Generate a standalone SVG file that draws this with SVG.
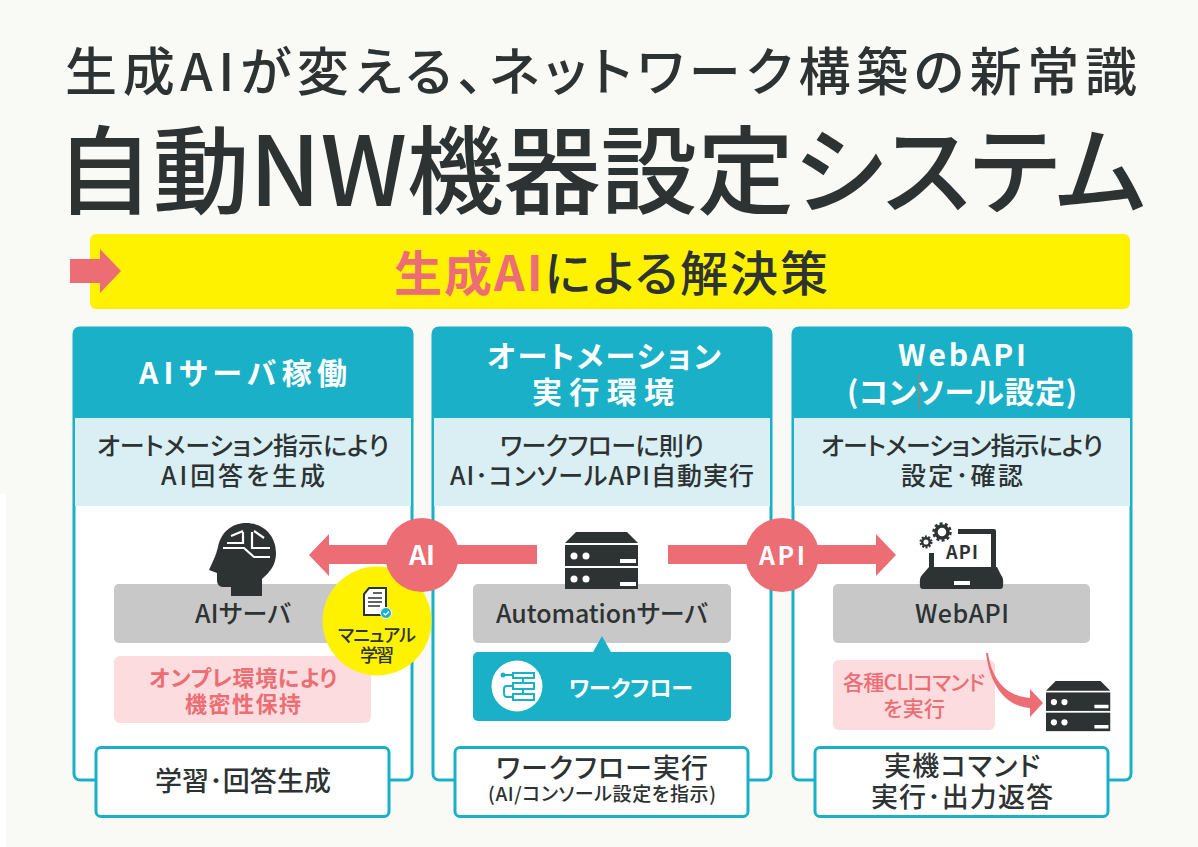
<svg xmlns="http://www.w3.org/2000/svg" width="1198" height="847" viewBox="0 0 1198 847">
<style>
text{font-family:"Noto Sans CJK JP","Noto Sans",sans-serif;fill:#2d3233;text-anchor:middle;font-feature-settings:"palt"}
.b{font-weight:700}
.m{font-weight:500}
.w{fill:#fff}
.r{fill:#ec6d74}
.card{fill:#fff;stroke:#19b0c8;stroke-width:3}
.head{fill:#19b0c8}
.sub{fill:#d9eff4}
.foot{fill:#fff;stroke:#19b0c8;stroke-width:3}
.gray{fill:#c8c8c8}
.pink{fill:#fcdcde}
.dark{fill:#2d3233}
.arrow{fill:#ec6d74}
</style>
<defs>
<g id="server">
<path d="M0 11 L11 0 H62 L73 11 Z" class="dark"/>
<rect x="0" y="13" width="73" height="21" class="dark"/>
<rect x="0" y="36" width="73" height="21" class="dark"/>
<circle cx="9" cy="24" r="3.500" fill="#fff"/><circle cx="21" cy="24" r="3.500" fill="#fff"/>
<rect x="55" y="27" width="16" height="4" fill="#fff"/>
<circle cx="9" cy="47" r="3.500" fill="#fff"/><circle cx="21" cy="47" r="3.500" fill="#fff"/>
<rect x="55" y="50" width="16" height="4" fill="#fff"/>
</g>
</defs>
<rect width="1198" height="847" fill="#f9f9f5"/>
<rect x="0" y="494" width="6" height="353" fill="#fff"/>

<g id="title">
<text x="601" y="91" font-size="52" class="m" textLength="1072" lengthAdjust="spacing">生成AIが変える、ネットワーク構築の新常識</text>
<text x="601" y="206" font-size="96" class="m" textLength="1090" lengthAdjust="spacingAndGlyphs">自動NW機器設定システム</text>
</g>

<g id="banner">
<rect x="90" y="234" width="1040" height="75" rx="6" fill="#fff200"/>
<path d="M70 259 H100 V249 L121 271 L100 293 V283 H70 Z" class="arrow"/>
<text x="611" y="291" font-size="48" class="b" textLength="434" lengthAdjust="spacing"><tspan class="r">生成AI</tspan><tspan class="m">による解決策</tspan></text>
</g>

<g id="col-ai">
<rect class="card" x="74" y="328" width="338" height="452" rx="6"/>
<path class="head" d="M73 418 V333 a6 6 0 0 1 6-6 H407 a6 6 0 0 1 6 6 V418 Z"/>
<rect class="sub" x="75" y="418" width="336" height="88"/>
<text x="243" y="384" font-size="30" class="b w" textLength="208" lengthAdjust="spacing">AIサーバ稼働</text>
<text x="243" y="455" font-size="25" class="m" textLength="292" lengthAdjust="spacing">オートメーション指示により</text>
<text x="243" y="485" font-size="25" class="m" textLength="164" lengthAdjust="spacing">AI回答を生成</text>
</g>
<g id="col-auto">
<rect class="card" x="433" y="328" width="338" height="452" rx="6"/>
<path class="head" d="M432 418 V333 a6 6 0 0 1 6-6 H766 a6 6 0 0 1 6 6 V418 Z"/>
<rect class="sub" x="434" y="418" width="336" height="88"/>
<text x="604" y="367" font-size="30" class="b w" textLength="234" lengthAdjust="spacing">オートメーション</text>
<text x="603" y="403" font-size="30" class="b w" textLength="142" lengthAdjust="spacing">実行環境</text>
<text x="602" y="455" font-size="25" class="m" textLength="204" lengthAdjust="spacing">ワークフローに則り</text>
<text x="602" y="485" font-size="25" class="m" textLength="304" lengthAdjust="spacing">AI･コンソールAPI自動実行</text>
</g>
<g id="col-api">
<rect class="card" x="793" y="328" width="338" height="452" rx="6"/>
<path class="head" d="M792 418 V333 a6 6 0 0 1 6-6 H1126 a6 6 0 0 1 6 6 V418 Z"/>
<rect class="sub" x="794" y="418" width="336" height="88"/>
<text x="962" y="366" font-size="30" class="b w" textLength="128" lengthAdjust="spacing">WebAPI</text>
<text x="962" y="403" font-size="30" class="b w" textLength="230" lengthAdjust="spacing">(コンソール設定)</text>
<rect x="918" y="374" width="1" height="36" fill="#c8704f"/>
<text x="962" y="455" font-size="25" class="m" textLength="282" lengthAdjust="spacing">オートメーション指示により</text>
<text x="962" y="485" font-size="25" class="m" textLength="122" lengthAdjust="spacing">設定･確認</text>
</g>

<g id="ai-server">
<rect class="gray" x="114" y="584" width="257" height="59" rx="5"/>
<text x="243" y="623" font-size="25" class="m" textLength="96" lengthAdjust="spacing">AIサーバ</text>
<path class="dark" d="M218 547 C221 532 232 523 246 523 C264 523 276 536 276 553 C276 565 270 572 262 579 V596 H231 V587 H223 C219 587 217 584 217 580 V573 L209 570 C212 563 216 556 218 547 Z"/>
<path d="M223 548 H244 L254 557 H270 M227 543 H243 V532 M231 536 L243 531 M252 532 V548 H270 M254 531 L264 538" fill="none" stroke="#fff" stroke-width="2.200"/>
</g>
<g id="ai-note">
<rect class="pink" x="114" y="656" width="257" height="67" rx="6"/>
<text x="243" y="686" font-size="22" class="b r" textLength="188" lengthAdjust="spacing">オンプレ環境により</text>
<text x="243" y="712" font-size="22" class="b r" textLength="116" lengthAdjust="spacing">機密性保持</text>
</g>
<g id="ai-foot">
<rect class="foot" x="96" y="747.500" width="293" height="69" rx="5"/>
<text x="243" y="791" font-size="27" class="m" textLength="176" lengthAdjust="spacing">学習･回答生成</text>
</g>

<g id="auto-server">
<rect class="gray" x="473" y="584" width="258" height="59" rx="5"/>
<text x="602" y="623" font-size="25" class="m" textLength="212" lengthAdjust="spacing">Automationサーバ</text>
<use href="#server" x="565" y="532"/>
</g>
<g id="workflow">
<path class="head" d="M593 652 L602 636 L611 652 Z"/>
<rect class="head" x="473" y="652" width="258" height="69" rx="5"/>
<circle cx="517" cy="686" r="25.500" fill="#fff"/>
<g fill="none" stroke="#19b0c8" stroke-width="2">
<rect x="513" y="673" width="21" height="5"/><rect x="513" y="683" width="21" height="6"/><rect x="513" y="694" width="21" height="6"/>
<path d="M503 675 H513 M513 686 H507 Q504 686 504 689 V693 Q504 697 507 697 H513 M523 678 V683 M523 689 V694"/>
</g>
<circle cx="503" cy="675" r="2.500" fill="#19b0c8"/>
<text x="631" y="696" font-size="22" class="b w" textLength="124" lengthAdjust="spacing">ワークフロー</text>
</g>
<g id="auto-foot">
<rect class="foot" x="455" y="747.500" width="293" height="69" rx="5"/>
<text x="602" y="778" font-size="27" class="m" textLength="212" lengthAdjust="spacing">ワークフロー実行</text>
<text x="602" y="801" font-size="19" class="m" textLength="228" lengthAdjust="spacing">(AI/コンソール設定を指示)</text>
</g>

<g id="webapi">
<rect class="gray" x="833" y="584" width="257" height="59" rx="5"/>
<text x="962" y="623" font-size="25" class="m" textLength="94" lengthAdjust="spacing">WebAPI</text>
<path class="dark" d="M958 529 H994 Q996 529 996 531 V570 H929 V553 H934 V567 H991 V534 H958 Z"/>
<path class="dark" d="M929 567 H997 L1001 575 Q1004 578 1003 586 Q1003 589 1000 589 H923 Q920 589 920 586 Q919 578 922 575 Z"/>
<rect x="954" y="581" width="16" height="4" fill="#fff"/>
<text x="962" y="559" font-size="18" class="b" textLength="32" lengthAdjust="spacing">API</text>
<circle cx="942" cy="532" r="6" fill="none" stroke="#2d3233" stroke-width="3.500"/>
<circle cx="942" cy="532" r="8.500" fill="none" stroke="#2d3233" stroke-width="2.500" stroke-dasharray="3 2.340"/>
<circle cx="926" cy="542" r="3.800" fill="none" stroke="#2d3233" stroke-width="2.500"/>
<circle cx="926" cy="542" r="5.500" fill="none" stroke="#2d3233" stroke-width="2" stroke-dasharray="2 1.450"/>
</g>
<g id="cli-note">
<rect class="pink" x="833" y="660" width="162" height="70" rx="6"/>
<text x="914" y="690" font-size="21" class="m r" textLength="142" lengthAdjust="spacing">各種CLIコマンド</text>
<text x="914" y="716" font-size="21" class="m r" textLength="62" lengthAdjust="spacing">を実行</text>
</g>
<g id="target-server">
<use href="#server" transform="translate(1046 681) scale(.88)"/>
</g>
<g id="api-foot">
<rect class="foot" x="815" y="747.500" width="293" height="69" rx="5"/>
<text x="962" y="776" font-size="27" class="m" textLength="156" lengthAdjust="spacing">実機コマンド</text>
<text x="962" y="807" font-size="27" class="m" textLength="182" lengthAdjust="spacing">実行･出力返答</text>
</g>

<g id="connectors">
<path class="arrow" d="M537 545 H329 V534 L309 555 L329 576 V564 H537 Z"/>
<path class="arrow" d="M668 545 H876 V534 L896 555 L876 576 V564 H668 Z"/>
<path class="arrow" d="M986 653 H988 C992 680 1006 696 1030 698 V689 L1043 703 L1030 717 V708 C1005 706 990 685 986 653 Z"/>
</g>
<g id="manual-badge">
<circle cx="377" cy="621" r="54.500" fill="#fff200"/>
<path d="M369 588 H386 V615 H364 V594 Z" fill="#fff" stroke="#2d3233" stroke-width="2"/>
<path d="M368 598 H382 M368 602 H382 M368 606 H380 M373 593 H382" stroke="#2d3233" stroke-width="1.500"/>
<circle cx="386" cy="613" r="5.500" fill="#19b0c8" stroke="#fff" stroke-width="1"/>
<path d="M383.500 613 L385.500 615 L389 611.500" fill="none" stroke="#fff" stroke-width="1.200"/>
<text x="377" y="642" font-size="18" class="m" textLength="78" lengthAdjust="spacing">マニュアル</text>
<text x="377" y="662" font-size="18" class="m" textLength="34" lengthAdjust="spacing">学習</text>
</g>
<g id="badge-ai">
<circle cx="422" cy="555" r="37" fill="#ec6d74"/>
<text x="422" y="565" font-size="27" class="b w" textLength="26" lengthAdjust="spacing">AI</text>
</g>
<g id="badge-api">
<circle cx="782" cy="555" r="37" fill="#ec6d74"/>
<text x="782" y="565" font-size="25" class="b w" textLength="46" lengthAdjust="spacing">API</text>
</g>
</svg>
